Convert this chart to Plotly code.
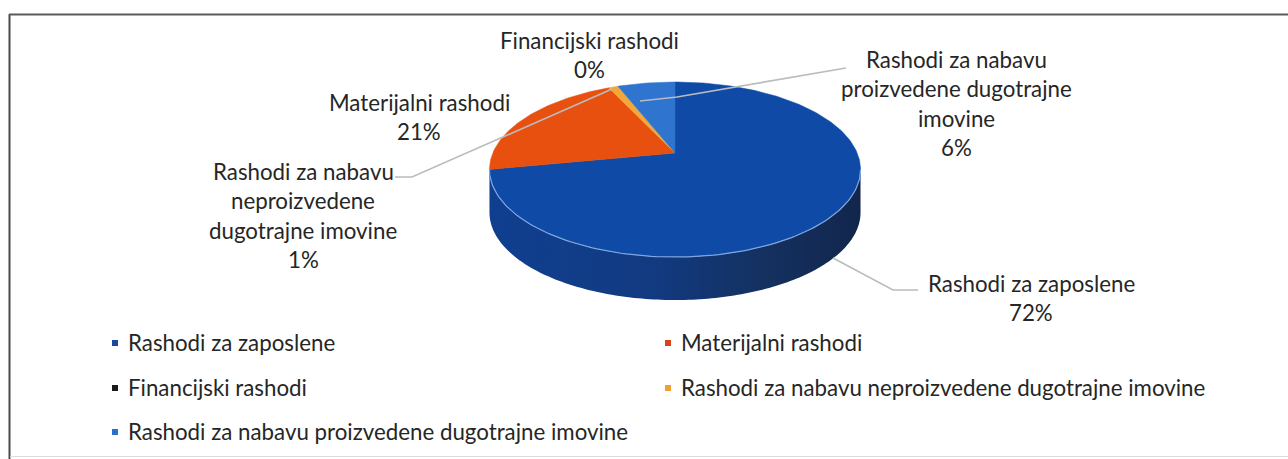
import numpy as np
import plotly.graph_objects as go

categories = ["Rashodi za zaposlene", "Materijalni rashodi", "Financijski rashodi",
              "Rashodi za nabavu neproizvedene dugotrajne imovine",
              "Rashodi za nabavu proizvedene dugotrajne imovine"]
values = [72, 21, 0, 1, 6]
colors = ["#0e4aa6", "#e8500f", "#1a1a2e", "#f2a73b", "#2f74cf"]
legend_colors = ["#1a4aa0", "#d9431a", "#1a1a1a", "#f0a030", "#2a6fc8"]

label_lines = [["Rashodi za zaposlene"], ["Materijalni rashodi"], ["Financijski rashodi"],
               ["Rashodi za nabavu", "neproizvedene", "dugotrajne imovine"],
               ["Rashodi za nabavu", "proizvedene dugotrajne", "imovine"]]
label_anchor = [(1031, 283), (419, 102), (589, 40), (303, 171), (956, 59)]
legend_pos = [(115, 343), (668, 343), (115, 388), (668, 388), (115, 432)]

FONT = "Lato"
FS = 22.3
INK = "#262626"
LEAD = 29.5

# pie geometry: a tilted disc seen in perspective
APEX = (675, 153)
A, B, C = 0.1886, 84.4, 182.2
DEPTH = 43


def project(theta):
    u, v = np.sin(theta), np.cos(theta)
    d = 1 + A * v
    return APEX[0] + C * u / d, APEX[1] - B * v / d


fig = go.Figure()

# side wall of the first slice (front of the disc), with a horizontal shading
frac = np.cumsum([0] + values) / sum(values)
t1 = 2 * np.pi * frac[1]
th = np.linspace(np.arccos(-A), t1, 160)
x, y = project(th)
fig.add_trace(go.Scatter(
    x=np.r_[x, x[::-1]], y=np.r_[y, y[::-1] + DEPTH], fill="toself", mode="none",
    fillgradient=dict(type="horizontal", colorscale=[[0, "#103f90"], [0.45, "#123a80"],
                                                     [0.75, "#14305f"], [1, "#12264c"]]),
    hoverinfo="skip", showlegend=False))

# top surface slices, clockwise from 12 o'clock
for i, name in enumerate(categories):
    a, b = 2 * np.pi * frac[i], 2 * np.pi * frac[i + 1]
    if b <= a:
        continue
    th = np.linspace(a, b, max(4, int((b - a) * 60)))
    x, y = project(th)
    fig.add_trace(go.Scatter(x=np.r_[APEX[0], x, APEX[0]], y=np.r_[APEX[1], y, APEX[1]],
                             fill="toself", fillcolor=colors[i], mode="lines",
                             line=dict(color=colors[i], width=0.5), name=name,
                             text=f"{name}: {values[i]}%", hoverinfo="text", showlegend=False))

# light rim on the front edge
th = np.linspace(np.arccos(-A), t1, 120)
x, y = project(th)
fig.add_trace(go.Scatter(x=x, y=y, mode="lines", line=dict(color="#7ea6e0", width=1.2),
                         hoverinfo="skip", showlegend=False))

# leader lines
leaders = [([918, 893, 833], [290, 290, 258]),
           ([395, 412, 612], [177, 177, 89]),
           ([846, 677, 640], [68, 97, 101])]
for lx, ly in leaders:
    fig.add_trace(go.Scatter(x=lx, y=ly, mode="lines", line=dict(color="#b9bcbf", width=1.6),
                             hoverinfo="skip", showlegend=False))

ann = []

# legend keys and their names
for i, name in enumerate(categories):
    fig.add_trace(go.Scatter(x=[legend_pos[i][0]], y=[legend_pos[i][1]], mode="markers",
                             marker=dict(symbol="square", size=6, color=legend_colors[i]),
                             name=name, hoverinfo="skip", showlegend=False))
    ann.append(dict(x=legend_pos[i][0] + 11, y=legend_pos[i][1] - 1, text=name, showarrow=False,
                    xanchor="left", yanchor="middle",
                    font=dict(family=FONT, size=FS, color=INK)))

# data labels, one annotation per text line
for i, lines in enumerate(label_lines):
    cx, cy = label_anchor[i]
    for j, t in enumerate(lines + [f"{round(values[i] / sum(values) * 100)}%"]):
        ann.append(dict(x=cx, y=cy + j * LEAD, text=t, showarrow=False, xanchor="center",
                        yanchor="middle", font=dict(family=FONT, size=FS, color=INK)))

fig.update_layout(
    width=1288, height=459, margin=dict(l=0, r=0, t=0, b=0),
    paper_bgcolor="white", plot_bgcolor="white", showlegend=False,
    xaxis=dict(range=[0, 1288], visible=False, fixedrange=True),
    yaxis=dict(range=[459, 0], visible=False, fixedrange=True),
    annotations=ann,
    shapes=[
        dict(type="line", x0=9.5, x1=9.5, y0=14, y1=459, line=dict(color="#4a4a4a", width=2)),
        dict(type="line", x0=9, x1=1288, y0=14.5, y1=14.5, line=dict(color="#5a5a5a", width=2)),
        dict(type="line", x0=10, x1=1288, y0=456.5, y1=456.5, line=dict(color="#dcdcdc", width=1)),
    ],
)
fig.write_html("out.html", config=dict(displayModeBar=False),
               post_script="document.body.style.margin='0';document.body.style.overflow='hidden';")
